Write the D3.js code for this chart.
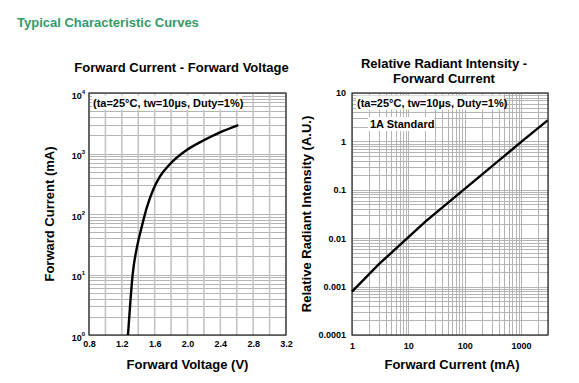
<!DOCTYPE html>
<html><head><meta charset="utf-8">
<script src="https://cdn.jsdelivr.net/npm/d3@7"></script>
<style>
body{margin:0;background:#fff;}
svg{display:block;font-family:"Liberation Sans",Arial,sans-serif;}
</style></head>
<body>
<svg id="c" width="579" height="383"></svg>
<script>
// ---- Data ----
const vfVoltage = [1.275, 1.30, 1.332, 1.388, 1.442, 1.503, 1.583, 1.665, 1.787, 1.99, 2.192, 2.396, 2.619];
const vfCurrent = [1, 3, 10, 30, 61, 126, 254, 417, 670, 1142, 1640, 2240, 2958];
const vfXTicks = [0.8, 1.2, 1.6, 2.0, 2.4, 2.8, 3.2];
const vfYTicks = [1, 10, 100, 1000, 10000];

const riCurrent = [1, 3, 20, 1030, 2950];
const riIntensity = [0.00079, 0.0029, 0.022, 1.0, 2.72];
const riXTicks = [1, 10, 100, 1000];
const riXTickLabels = ["1", "10", "100", "1000"];
const riYTicks = [0.0001, 0.001, 0.01, 0.1, 1, 10];
const riYTickLabels = ["0.0001", "0.001", "0.01", "0.1", "1", "10"];

const svg = d3.select("#c");
const gridColor = "#b4b4b4";

svg.append("text").attr("x", 17).attr("y", 27).attr("fill", "#339a6b")
  .attr("font-weight", "bold").attr("font-size", 13).text("Typical Characteristic Curves");

function logMinor(lo, hi) {
  const out = [];
  for (let e = Math.floor(Math.log10(lo)); e <= Math.ceil(Math.log10(hi)); e++) {
    for (let m = 1; m <= 9; m++) {
      const v = m * Math.pow(10, e);
      if (v >= lo * 0.9999 && v <= hi * 1.0001) out.push(v);
    }
  }
  return out;
}

// ---- Chart 1 ----
{
  const L = 89, R = 286, T = 93, B = 335;
  const x = d3.scaleLinear().domain([0.8, 3.2]).range([L, R]);
  const y = d3.scaleLog().domain([1, 10000]).range([B, T]);
  const g = svg.append("g");
  g.selectAll("line.h").data(logMinor(1, 10000)).join("line")
    .attr("x1", L).attr("x2", R).attr("y1", d => Math.round(y(d)) + 0.5).attr("y2", d => Math.round(y(d)) + 0.5)
    .attr("stroke", gridColor).attr("stroke-width", 1);
  g.selectAll("line.v").data(d3.range(0, 13).map(i => 0.8 + i * 0.2)).join("line")
    .attr("y1", T).attr("y2", B).attr("x1", d => x(d)).attr("x2", d => x(d))
    .attr("stroke", "#c4c4c4").attr("stroke-width", 1.6);
  g.append("rect").attr("x", L).attr("y", T).attr("width", R - L).attr("height", B - T)
    .attr("fill", "none").attr("stroke", "#222").attr("stroke-width", 1.2);
  g.append("rect").attr("x", 92).attr("y", 95.5).attr("width", 150).attr("height", 14).attr("fill", "#fff");
  g.append("text").attr("x", 93).attr("y", 107).attr("font-size", 11).attr("font-weight", "bold")
    .text("(ta=25°C, tw=10µs, Duty=1%)");
  const line = d3.line().x(d => x(d[0])).y(d => y(d[1])).curve(d3.curveMonotoneX);
  g.append("path").datum(vfVoltage.map((v, i) => [v, vfCurrent[i]]))
    .attr("d", line).attr("fill", "none").attr("stroke", "#000").attr("stroke-width", 2.4);
  const xa = g.append("g").attr("transform", `translate(0,${B})`)
    .call(d3.axisBottom(x).tickValues(vfXTicks).tickSize(0).tickPadding(6).tickFormat(d3.format(".1f")));
  xa.select(".domain").remove();
  xa.selectAll("text").attr("font-size", 9).attr("font-weight", "bold").attr("font-family", null).attr("fill", "#000");
  const ya = g.append("g").attr("transform", `translate(${L},0)`)
    .call(d3.axisLeft(y).tickValues(vfYTicks).tickSize(0).tickPadding(4).tickFormat(() => ""));
  ya.select(".domain").remove();
  ya.selectAll(".tick text").each(function(d) {
    const t = d3.select(this).attr("font-family", null).attr("font-size", 9).attr("font-weight", "bold").attr("fill", "#000").attr("dy", "0.6em");
    t.append("tspan").text("10");
    t.append("tspan").attr("font-size", 6).attr("dy", "-0.9em").text(Math.round(Math.log10(d)));
  });
  g.append("text").attr("x", (L + R) / 2 - 6).attr("y", 72).attr("text-anchor", "middle")
    .attr("font-size", 13).attr("font-weight", "bold").text("Forward Current - Forward Voltage");
  g.append("text").attr("x", (L + R) / 2).attr("y", 369).attr("text-anchor", "middle")
    .attr("font-size", 13).attr("font-weight", "bold").text("Forward Voltage (V)");
  g.append("text").attr("transform", `translate(54,${(T + B) / 2}) rotate(-90)`).attr("text-anchor", "middle")
    .attr("font-size", 13).attr("font-weight", "bold").text("Forward Current (mA)");
}

// ---- Chart 2 ----
{
  const L = 352, R = 548, T = 93, B = 335;
  const x = d3.scaleLog().domain([1, 3000]).range([L, R]);
  const y = d3.scaleLog().domain([0.0001, 10]).range([B, T]);
  const g = svg.append("g");
  g.selectAll("line.h").data(logMinor(0.0001, 10)).join("line")
    .attr("x1", L).attr("x2", R).attr("y1", d => Math.round(y(d)) + 0.5).attr("y2", d => Math.round(y(d)) + 0.5)
    .attr("stroke", gridColor).attr("stroke-width", 1);
  g.selectAll("line.v").data(logMinor(1, 3000)).join("line")
    .attr("y1", T).attr("y2", B).attr("x1", d => Math.round(x(d)) + 0.5).attr("x2", d => Math.round(x(d)) + 0.5)
    .attr("stroke", gridColor).attr("stroke-width", 1);
  g.append("rect").attr("x", L).attr("y", T).attr("width", R - L).attr("height", B - T)
    .attr("fill", "none").attr("stroke", "#222").attr("stroke-width", 1.2);
  g.append("rect").attr("x", 356).attr("y", 95.5).attr("width", 148).attr("height", 14).attr("fill", "#fff");
  g.append("text").attr("x", 357).attr("y", 107).attr("font-size", 11).attr("font-weight", "bold")
    .text("(ta=25°C, tw=10µs, Duty=1%)");
  g.append("rect").attr("x", 368).attr("y", 117).attr("width", 66).attr("height", 14).attr("fill", "#fff");
  g.append("text").attr("x", 370).attr("y", 128).attr("font-size", 11).attr("font-weight", "bold")
    .text("1A Standard");
  const line = d3.line().x(d => x(d[0])).y(d => y(d[1]));
  g.append("path").datum(riCurrent.map((v, i) => [v, riIntensity[i]]))
    .attr("d", line).attr("fill", "none").attr("stroke", "#000").attr("stroke-width", 2.4);
  const xa = g.append("g").attr("transform", `translate(0,${B})`)
    .call(d3.axisBottom(x).tickValues(riXTicks).tickSize(0).tickPadding(8).tickFormat((d, i) => riXTickLabels[i]));
  xa.select(".domain").remove();
  xa.selectAll("text").attr("font-size", 9).attr("font-weight", "bold").attr("font-family", null).attr("fill", "#000");
  const ya = g.append("g").attr("transform", `translate(${L},0)`)
    .call(d3.axisLeft(y).tickValues(riYTicks).tickSize(0).tickPadding(6).tickFormat((d, i) => riYTickLabels[i]));
  ya.select(".domain").remove();
  ya.selectAll("text").attr("font-size", 9).attr("font-weight", "bold").attr("font-family", null).attr("fill", "#000");
  g.append("text").attr("x", 444).attr("y", 68).attr("text-anchor", "middle")
    .attr("font-size", 13).attr("font-weight", "bold").text("Relative Radiant Intensity -");
  g.append("text").attr("x", 444).attr("y", 83).attr("text-anchor", "middle")
    .attr("font-size", 13).attr("font-weight", "bold").text("Forward Current");
  g.append("text").attr("x", 452).attr("y", 369).attr("text-anchor", "middle")
    .attr("font-size", 13).attr("font-weight", "bold").text("Forward Current (mA)");
  g.append("text").attr("transform", `translate(311,${(T + B) / 2}) rotate(-90)`).attr("text-anchor", "middle")
    .attr("font-size", 13).attr("font-weight", "bold").text("Relative Radiant Intensity (A.U.)");
}
</script>
</body></html>
